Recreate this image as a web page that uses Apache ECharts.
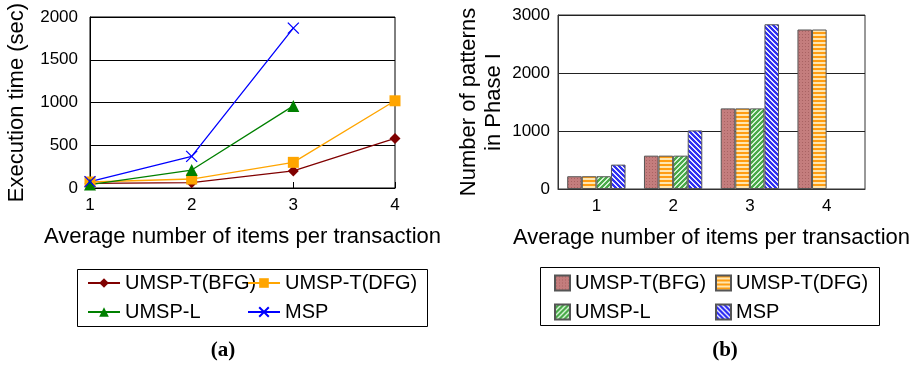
<!DOCTYPE html>
<html><head><meta charset="utf-8">
<script src="https://cdn.jsdelivr.net/npm/echarts@6/dist/echarts.min.js"></script>
<style>html,body{margin:0;padding:0;background:#fff}#c{width:919px;height:368px}</style>
</head><body><div id="c"></div>
<script>
// ---- data ----
const categories = ['1','2','3','4'];
const seriesNames = ['UMSP-T(BFG)','UMSP-T(DFG)','UMSP-L','MSP'];
// (a) execution time (sec)
const timeBFG = [55, 62, 200, 580];
const timeDFG = [70, 105, 300, 1020];
const timeL   = [40, 210, 960, '-'];
const timeMSP = [75, 370, 1870, '-'];
// (b) number of patterns in Phase I
const patBFG = [220, 575, 1390, 2750];
const patDFG = [220, 575, 1390, 2750];
const patL   = [220, 575, 1390, '-'];
const patMSP = [420, 1010, 2840, '-'];
const timeTicks = {min:0, max:2000, interval:500};
const patTicks = {min:0, max:3000, interval:1000};

const FONT = 'Liberation Sans, Arial, sans-serif';

function pattern(n, base, stripe, test){
  const c = document.createElement('canvas'); c.width = n; c.height = n;
  const g = c.getContext('2d');
  g.fillStyle = base; g.fillRect(0,0,n,n);
  g.fillStyle = stripe;
  for (let x=0;x<n;x++) for (let y=0;y<n;y++) if (test(x,y)) g.fillRect(x,y,1,1);
  return {image:c, repeat:'repeat'};
}
const pBFG = pattern(3,'#c47d7d','#a86262',(x,y)=>x===1&&y===1);
const pDFG = pattern(4,'#ff9d12','#ffe6b0',(x,y)=>y>=2);
const pL   = pattern(5,'#4aaa4a','#d4f2d4',(x,y)=>((x+y)%5)<2);
const pMSP = pattern(5,'#2f2ff2','#e6e6ff',(x,y)=>((x-y+50)%5)<2);

const chart = echarts.init(document.getElementById('c'), null, {renderer:'canvas'});
const axisLabel = {color:'#000', fontFamily:FONT, fontSize:17, formatter:(v)=>String(v)};
const nameStyle = {color:'#000', fontFamily:FONT, fontSize:22};

const crossPath = 'path://M0,0L10,10M10,0L0,10';

function lineS(name, data, color, symbol, size){
  return {
    type:'line', name, data, xAxisIndex:0, yAxisIndex:0,
    symbol, symbolSize:size, showSymbol:true,
    lineStyle:{color, width:1.3},
    itemStyle:{color, borderColor:color, borderWidth: symbol===crossPath?1.3:0},
    animation:false, z:3
  };
}
function barS(name, data, pat){
  return {
    type:'bar', name, data, xAxisIndex:1, yAxisIndex:1,
    barGap:'0%', barCategoryGap:'24%',
    itemStyle:{color:pat, borderColor:'#555', borderWidth:1},
    animation:false
  };
}

const legText = {color:'#000', fontFamily:FONT, fontSize:20, lineHeight:20};

const option = {
  backgroundColor:'#fff',
  animation:false,
  grid:[
    {left:90, right:524, top:17, bottom:180, show:true, borderColor:'#000', borderWidth:1},
    {left:558, right:54, top:15, bottom:179, show:true, borderColor:'#333', borderWidth:1}
  ],
  xAxis:[
    {gridIndex:0, type:'category', data:categories, boundaryGap:false,
     axisLine:{lineStyle:{color:'#000'}}, axisTick:{inside:true, length:6, lineStyle:{color:'#000'}},
     axisLabel:Object.assign({margin:9}, axisLabel),
     name:'Average number of items per transaction', nameLocation:'middle', nameGap:38, nameTextStyle:nameStyle},
    {gridIndex:1, type:'category', data:categories, boundaryGap:true,
     axisLine:{lineStyle:{color:'#333'}}, axisTick:{inside:true, length:6, lineStyle:{color:'#333'}},
     axisLabel:Object.assign({margin:9}, axisLabel),
     name:'Average number of items per transaction', nameLocation:'middle', nameGap:38, nameTextStyle:nameStyle}
  ],
  yAxis:[
    Object.assign({gridIndex:0, type:'value',
     axisLine:{show:true, lineStyle:{color:'#000'}}, axisTick:{show:false},
     splitLine:{lineStyle:{color:'#000', width:1}},
     axisLabel:Object.assign({margin:12}, axisLabel),
     name:'Execution time (sec)', nameLocation:'middle', nameGap:62, nameTextStyle:nameStyle}, timeTicks),
    Object.assign({gridIndex:1, type:'value',
     axisLine:{show:true, lineStyle:{color:'#333'}}, axisTick:{show:false},
     splitLine:{lineStyle:{color:'#222', width:1}},
     axisLabel:Object.assign({margin:8}, axisLabel),
     name:'Number of patterns\nin Phase I', nameLocation:'middle', nameGap:52,
     nameTextStyle:Object.assign({lineHeight:25}, nameStyle)}, patTicks)
  ],
  legend:[
    {orient:'vertical', left:87, top:273, itemWidth:32, itemHeight:12, itemGap:9, padding:0,
     data:[seriesNames[0], seriesNames[2]], textStyle:legText},
    {orient:'vertical', left:247, top:273, itemWidth:32, itemHeight:12, itemGap:9, padding:0,
     data:[seriesNames[1], seriesNames[3]], textStyle:legText},
    {orient:'vertical', left:554, top:273, itemWidth:15, itemHeight:15, itemGap:9, padding:0, icon:'rect',
     data:[seriesNames[0]+' ', seriesNames[2]+' '], textStyle:legText},
    {orient:'vertical', left:715, top:273, itemWidth:15, itemHeight:15, itemGap:9, padding:0, icon:'rect',
     data:[seriesNames[1]+' ', seriesNames[3]+' '], textStyle:legText}
  ],
  series:[
    lineS(seriesNames[0], timeBFG, '#800000', 'diamond', 11),
    lineS(seriesNames[1], timeDFG, '#ffa500', 'rect', 11),
    lineS(seriesNames[2], timeL, '#008000', 'triangle', 12),
    lineS(seriesNames[3], timeMSP, '#0000ff', crossPath, 11),
    barS(seriesNames[0]+' ', patBFG, pBFG),
    barS(seriesNames[1]+' ', patDFG, pDFG),
    barS(seriesNames[2]+' ', patL, pL),
    barS(seriesNames[3]+' ', patMSP, pMSP)
  ],
  graphic:[
    {type:'rect', shape:{x:77.5, y:269.5, width:350, height:57}, style:{fill:'none', stroke:'#000', lineWidth:1}},
    {type:'rect', shape:{x:540.5, y:267.5, width:339, height:58}, style:{fill:'none', stroke:'#000', lineWidth:1}},
    {type:'text', x:223, y:351, style:{text:'(a)', font:'bold 21px "Liberation Serif", "Times New Roman", serif', fill:'#000', textAlign:'center', textVerticalAlign:'middle'}},
    {type:'text', x:725, y:351, style:{text:'(b)', font:'bold 21px "Liberation Serif", "Times New Roman", serif', fill:'#000', textAlign:'center', textVerticalAlign:'middle'}}
  ]
};
chart.setOption(option);
</script></body></html>
